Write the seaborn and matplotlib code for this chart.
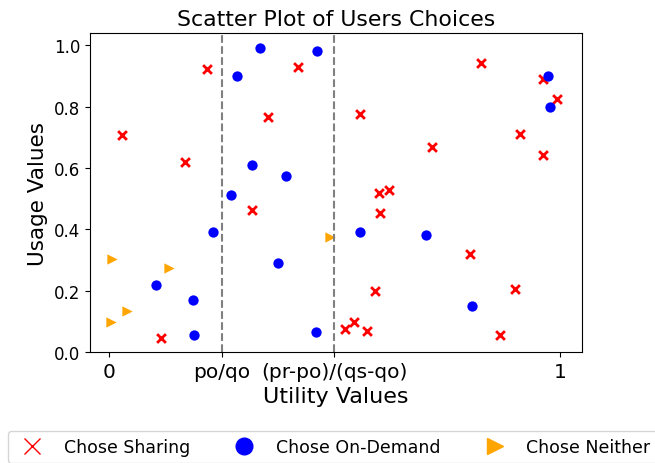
import matplotlib
matplotlib.use("Agg")
import matplotlib.pyplot as plt
from matplotlib.lines import Line2D
import seaborn as sns

# Users who chose sharing
sharing_x = [0.217, 0.029, 0.169, 0.116, 0.420, 0.352, 0.318, 0.826, 0.963, 0.993, 0.557, 0.911,
             0.716, 0.963, 0.622, 0.598, 0.602, 0.800, 0.589, 0.901, 0.543, 0.523, 0.573, 0.868]
sharing_y = [0.924, 0.708, 0.621, 0.045, 0.928, 0.765, 0.463, 0.943, 0.889, 0.824, 0.775, 0.712,
             0.670, 0.641, 0.529, 0.519, 0.454, 0.318, 0.198, 0.205, 0.097, 0.074, 0.069, 0.055]

# Users who chose on-demand
ondemand_x = [0.270, 0.231, 0.104, 0.186, 0.189, 0.335, 0.461, 0.283, 0.318, 0.393, 0.374, 0.459,
              0.973, 0.979, 0.557, 0.703, 0.806]
ondemand_y = [0.511, 0.392, 0.217, 0.170, 0.056, 0.990, 0.980, 0.900, 0.611, 0.573, 0.290, 0.064,
              0.899, 0.798, 0.391, 0.380, 0.150]

# Users who chose neither
neither_x = [0.006, 0.133, 0.039, 0.004, 0.490]
neither_y = [0.304, 0.275, 0.135, 0.097, 0.376]

# Thresholds and tick labels
thresholds = [0.25, 0.5]
xtick_pos = [0, 0.25, 0.5, 1]
xtick_labels = ['0', 'po/qo', '(pr-po)/(qs-qo)', '1']

fig = plt.figure(figsize=(6.55, 4.64), dpi=100)
ax = fig.add_axes([0.1374, 0.2392, 0.7511, 0.6875])

sns.scatterplot(x=sharing_x, y=sharing_y, marker='x', color='red', s=40, linewidth=2, ax=ax)
sns.scatterplot(x=ondemand_x, y=ondemand_y, marker='o', color='blue', s=55, linewidth=0, ax=ax)
sns.scatterplot(x=neither_x, y=neither_y, marker='>', color='orange', s=55, linewidth=0, ax=ax)

for t in thresholds:
    ax.axvline(t, color='gray', linestyle='--', linewidth=1.5)

ax.set_xlim(-0.042, 1.049)
ax.set_ylim(0, 1.04)
ax.set_xticks(xtick_pos)
ax.set_xticklabels(xtick_labels, fontsize=14.5)
ax.tick_params(axis='y', labelsize=12)
ax.set_xlabel("Utility Values", fontsize=16)
ax.set_ylabel("Usage Values", fontsize=15.5)
ax.set_title("Scatter Plot of Users Choices", fontsize=15.8)

handles = [
    Line2D([0], [0], marker='x', color='w', markeredgecolor='red', markersize=12, label='Chose Sharing'),
    Line2D([0], [0], marker='o', color='w', markerfacecolor='blue', markeredgecolor='blue', markersize=12, label='Chose On-Demand'),
    Line2D([0], [0], marker='>', color='w', markerfacecolor='orange', markeredgecolor='orange', markersize=12, label='Chose Neither'),
]
fig.legend(handles=handles, loc='upper left', bbox_to_anchor=(8 / 655, 1 - 432 / 464),
           ncol=3, fontsize=12.5, borderaxespad=0, columnspacing=2.15)

fig.savefig("out.png", dpi=100)
